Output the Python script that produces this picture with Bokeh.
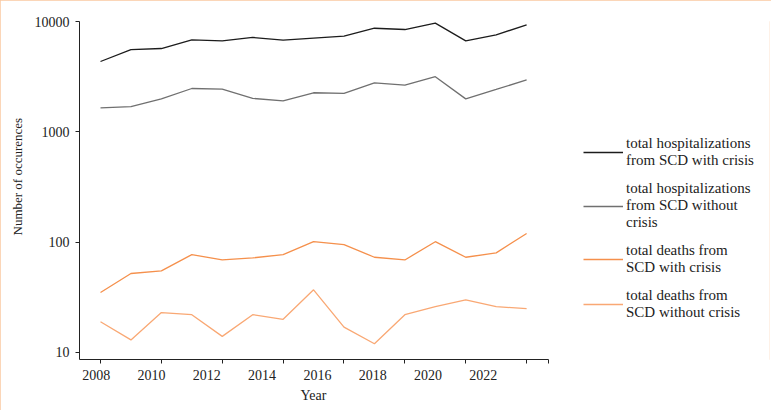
from bokeh.embed import file_html
from bokeh.models import (FixedTicker, Legend, LegendItem, LinearAxis,
                          Range1d, Title)
from bokeh.plotting import figure
from bokeh.resources import INLINE

# Annual counts, 2008-2022
years = list(range(2008, 2023))
hosp_crisis = [4340, 5570, 5690, 6820, 6680, 7170, 6780, 7070, 7360, 8690, 8460, 9660, 6680, 7570, 9330]
hosp_no_crisis = [1650, 1690, 1990, 2470, 2440, 2010, 1910, 2260, 2230, 2780, 2650, 3160, 1990, 2420, 2960]
deaths_crisis = [35, 52, 55, 77, 69, 72, 77, 101, 95, 73, 69, 101, 73, 80, 120]
deaths_no_crisis = [19, 13, 23, 22, 14, 22, 20, 37, 17, 12, 22, 26, 30, 26, 25]

series_labels = [
    "total hospitalizations\nfrom SCD with crisis",
    "total hospitalizations\nfrom SCD without\ncrisis",
    "total deaths from\nSCD with crisis",
    "total deaths from\nSCD without crisis",
]
series_colors = ["#1c1c1c", "#707070", "#f5904c", "#f9a874"]

x_tick_years = [2008, 2010, 2012, 2014, 2016, 2018, 2020, 2022]
y_ticks = [10, 100, 1000, 10000]

FONT = "Liberation Serif"

# The frame runs on to the right edge so the legend can sit inside it;
# the axes themselves stop at axis_end.
axis_start, axis_end = 2007.31, 2022.72
frame_end = 2029.98

p = figure(
    width=771, height=410,
    x_range=Range1d(axis_start, frame_end),
    y_range=Range1d(8.64, 10000),
    y_axis_type="log",
    output_backend="svg", toolbar_location=None,
    min_border_left=79, min_border_right=2,
    min_border_top=21, min_border_bottom=51,
    background_fill_color="white", border_fill_color="white",
    outline_line_color=None,
)
p.grid.visible = False
p.styles = {"outline": "2px solid #fac8a0", "outline-offset": "-2px"}

renderers = []
for ys, col in zip([hosp_crisis, hosp_no_crisis, deaths_crisis, deaths_no_crisis], series_colors):
    renderers.append(p.line(years, ys, line_color=col, line_width=1.3))

# y axis: decades only
yax = p.yaxis[0]
yax.ticker = FixedTicker(ticks=y_ticks, minor_ticks=[])
yax.major_label_overrides = {t: str(t) for t in y_ticks}
yax.major_tick_out = 4
yax.major_tick_in = 0
yax.major_label_standoff = 6
yax.major_label_text_font = FONT
yax.major_label_text_font_size = "14px"
yax.major_label_text_color = "#222222"
yax.axis_line_color = "#222222"
yax.major_tick_line_color = "#222222"

# y axis title, running up from a point above the frame's bottom
p.add_layout(Title(
    text="Number of occurences", align="left", offset=124, standoff=14,
    text_font=FONT, text_font_size="13px", text_font_style="normal",
    text_color="#222222",
), "left")

# x axis: tick marks at every second year plus the axis end
xax = p.xaxis[0]
xax.bounds = (axis_start, axis_end)
xax.ticker = FixedTicker(ticks=x_tick_years + [axis_end], minor_ticks=[])
xax.major_tick_out = 4
xax.major_tick_in = 0
xax.major_label_standoff = 0
xax.major_label_text_font_size = "0px"
xax.axis_line_color = "#222222"
xax.major_tick_line_color = "#222222"

# year labels sit on their own, slightly compressed scale
p.extra_x_ranges = {"year_labels": Range1d(2007.396, 2032.35)}
lab_ax = LinearAxis(x_range_name="year_labels", bounds=(2007.396, 2024.36),
                    ticker=FixedTicker(ticks=x_tick_years, minor_ticks=[]))
lab_ax.axis_line_alpha = 0
lab_ax.major_tick_out = 0
lab_ax.major_tick_in = 0
lab_ax.major_label_standoff = 6
lab_ax.major_label_text_font = FONT
lab_ax.major_label_text_font_size = "14px"
lab_ax.major_label_text_color = "#222222"
p.add_layout(lab_ax, "below")

# x axis title, placed under the middle of the bounded axis
p.add_layout(Title(
    text="Year", align="left", offset=221, standoff=7,
    text_font=FONT, text_font_size="14px", text_font_style="normal",
    text_color="#222222",
), "below")

legend = Legend(
    items=[LegendItem(label=lbl, renderers=[r]) for lbl, r in zip(series_labels, renderers)],
    location=(504, 38),
    padding=0, margin=0, spacing=11,
    glyph_width=40, label_standoff=3,
    label_text_font=FONT, label_text_font_size="15px",
    label_text_line_height=0.95, label_text_color="#222222",
    border_line_alpha=0, background_fill_alpha=0,
)
p.add_layout(legend)

open("out.html", "w").write(file_html(p, INLINE))
